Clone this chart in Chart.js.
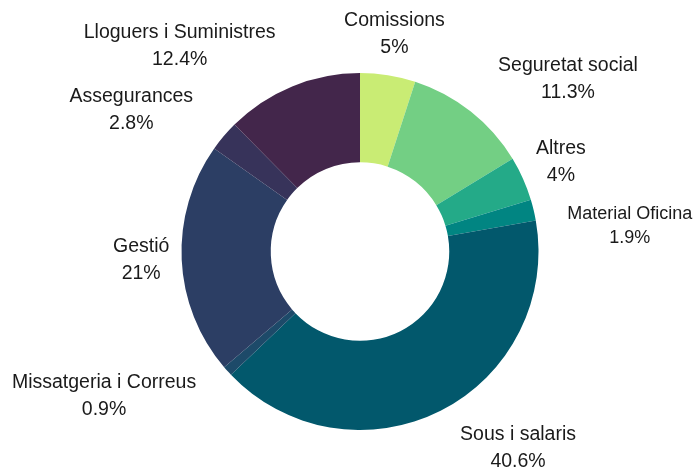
<!DOCTYPE html>
<html>
<head>
<meta charset="utf-8">
<script src="https://cdn.jsdelivr.net/npm/chart.js@4.4.0/dist/chart.umd.min.js"></script>
<style>
    body { margin: 0; background: #fff; }
    canvas { display: block; }
</style>
</head>
<body>
<canvas id="donutDespeses" width="695" height="467"></canvas>
<script>
const categories = ['Comissions', 'Seguretat social', 'Altres', 'Material Oficina', 'Sous i salaris',
    'Missatgeria i Correus', 'Gestió', 'Assegurances', 'Lloguers i Suministres'];
const percentatges = [5, 11.3, 4, 1.9, 40.6, 0.9, 21, 2.8, 12.4];
const colors = ['#c9ec74', '#73cf84', '#24aa88', '#018582', '#02586c', '#1d4a69', '#2c3e64', '#37335a', '#43264b'];

// label placement (distance from centre, angle shift in degrees, font size)
const labelRadius = [220, 270, 220, 271, 252, 294, 219, 269, 273];
const labelShift = [0, 12, 0, 8, -12, 12.6, 0.3, -8.5, -19];
const labelFont = [19.5, 19.5, 19.5, 18, 19.5, 19.5, 19.5, 19.5, 19.5];

const outsideLabels = {
    id: 'outsideLabels',
    afterDatasetsDraw(chart) {
        const ctx = chart.ctx;
        const meta = chart.getDatasetMeta(0);
        ctx.save();
        ctx.fillStyle = '#1a1a1a';
        ctx.textAlign = 'center';
        ctx.textBaseline = 'middle';
        meta.data.forEach((arc, i) => {
            const mid = (arc.startAngle + arc.endAngle) / 2 + labelShift[i] * Math.PI / 180;
            const x = arc.x + labelRadius[i] * Math.cos(mid);
            const y = arc.y + labelRadius[i] * Math.sin(mid);
            const gap = labelFont[i] === 18 ? 12 : 13.5;
            ctx.font = labelFont[i] + 'px "Liberation Sans", Arial, sans-serif';
            ctx.fillText(categories[i], x, y - gap);
            ctx.fillText(percentatges[i] + '%', x, y + gap);
        });
        ctx.restore();
    }
};

const donutCanvas = document.getElementById('donutDespeses');

const donutDespeses = new Chart(donutCanvas.getContext('2d'), {
    type: 'doughnut',
    data: {
        labels: categories,
        datasets: [{
            data: percentatges,
            backgroundColor: colors,
            borderWidth: 0,
            hoverOffset: 0
        }]
    },
    options: {
        responsive: false,
        animation: false,
        cutout: '50%',
        layout: {
            padding: { top: 73, bottom: 37, left: 100, right: 75 }
        },
        plugins: {
            legend: { display: false },
            tooltip: { enabled: false }
        }
    },
    plugins: [outsideLabels]
});
</script>
</body>
</html>
